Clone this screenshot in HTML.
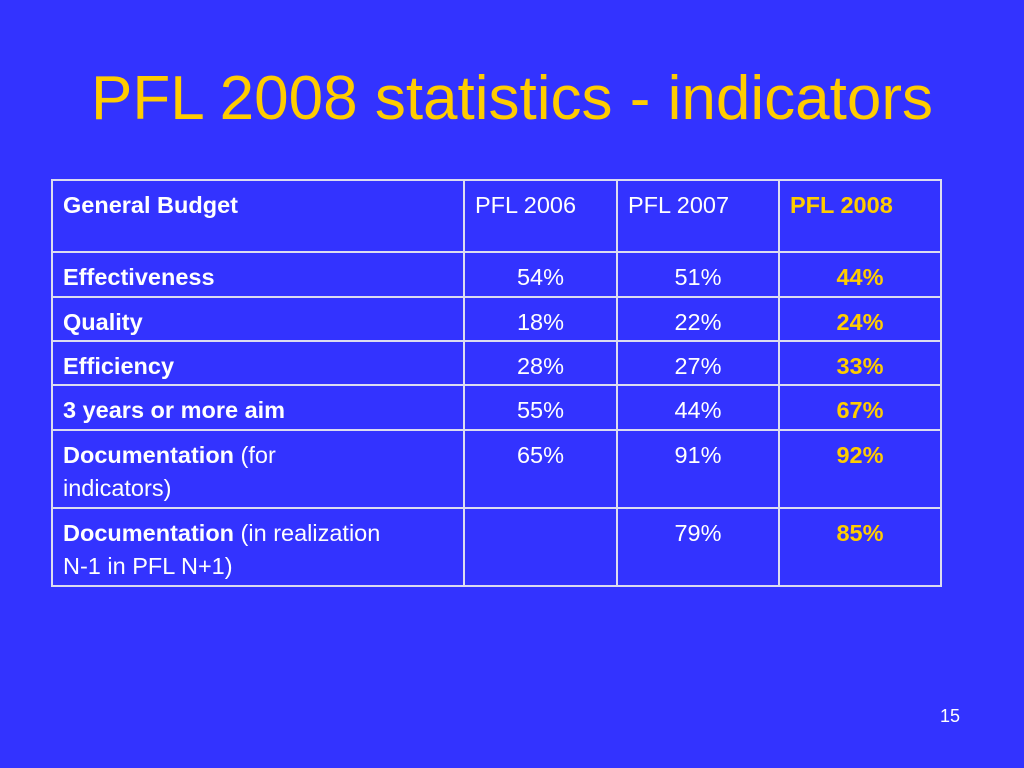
<!DOCTYPE html>
<html><head><meta charset="utf-8"><style>
body{margin:0;width:1024px;height:768px;background:#3333ff;overflow:hidden;font-family:"Liberation Sans",sans-serif;position:relative}
h1{position:absolute;left:0;top:63px;width:1024px;margin:0;text-align:center;font-weight:normal;font-size:62px;line-height:72px;color:#ffcc00;font-family:"Liberation Sans",sans-serif}
table{position:absolute;left:51px;top:179px;border-collapse:collapse;color:#fff;font-size:23.5px;font-family:"Liberation Sans",sans-serif}
td{border:2px solid #dcdcf0;padding:8px 10px 0 10px;vertical-align:top;line-height:33px;box-sizing:border-box}
td.n{text-align:center}
.y{color:#ffcc00;font-weight:bold}
b{font-weight:bold}
.pg{position:absolute;left:940px;top:706px;color:#fff;font-size:18px}
</style></head><body>
<h1>PFL 2008 statistics - indicators</h1>
<table>
<colgroup><col style="width:412px"><col style="width:153px"><col style="width:162px"><col style="width:162px"></colgroup>
<tr style="height:72px"><td><b>General Budget</b></td><td>PFL 2006</td><td>PFL 2007</td><td class="y">PFL 2008</td></tr>
<tr style="height:45px"><td><b>Effectiveness</b></td><td class="n">54%</td><td class="n">51%</td><td class="n y">44%</td></tr>
<tr style="height:44px"><td><b>Quality</b></td><td class="n">18%</td><td class="n">22%</td><td class="n y">24%</td></tr>
<tr style="height:44px"><td><b>Efficiency</b></td><td class="n">28%</td><td class="n">27%</td><td class="n y">33%</td></tr>
<tr style="height:45px"><td><b>3 years or more aim</b></td><td class="n">55%</td><td class="n">44%</td><td class="n y">67%</td></tr>
<tr style="height:78px"><td><b>Documentation</b> (for<br>indicators)</td><td class="n">65%</td><td class="n">91%</td><td class="n y">92%</td></tr>
<tr style="height:78px"><td><b>Documentation</b> (in realization<br>N-1 in PFL N+1)</td><td class="n"></td><td class="n">79%</td><td class="n y">85%</td></tr>
</table>
<div class="pg">15</div>
</body></html>
